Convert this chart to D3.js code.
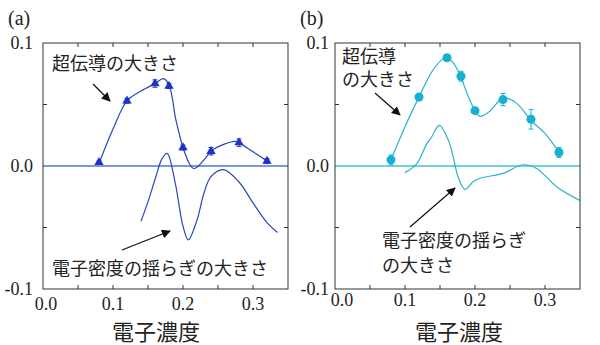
<!DOCTYPE html>
<html>
<head>
<meta charset="utf-8">
<script src="https://cdn.jsdelivr.net/npm/d3@7"></script>
<style>
  body { margin: 0; background: #fff; }
</style>
</head>
<body>
<script>
// measured points, x = electron concentration
var dopingX = [0.08, 0.12, 0.16, 0.18, 0.20, 0.24, 0.28, 0.32];
var scA = [0.003, 0.053, 0.067, 0.065, 0.015, 0.012, 0.019, 0.004];
var scAErr = [0.001, 0.002, 0.003, 0.002, 0.002, 0.003, 0.003, 0.002];
var scB = [0.005, 0.056, 0.088, 0.073, 0.045, 0.054, 0.038, 0.011];
var scBErr = [0.004, 0.002, 0.002, 0.004, 0.002, 0.005, 0.008, 0.004];

// smooth guide curves [x, value]
var fitA = [[0.08, 0.002], [0.10, 0.030], [0.12, 0.053], [0.14, 0.061], [0.16, 0.067], [0.172, 0.071],
  [0.18, 0.066], [0.19, 0.037], [0.20, 0.015], [0.21, 0.001], [0.215, -0.002], [0.22, -0.001],
  [0.23, 0.005], [0.24, 0.012], [0.26, 0.018], [0.275, 0.020], [0.28, 0.019], [0.30, 0.0115], [0.32, 0.004]];
var flucA = [[0.14, -0.045], [0.15, -0.029], [0.16, -0.011], [0.17, 0.006], [0.177, 0.0103], [0.18, 0.008],
  [0.19, -0.017], [0.20, -0.049], [0.2076, -0.060], [0.22, -0.044], [0.23, -0.022], [0.24, -0.0087],
  [0.2576, -0.003], [0.28, -0.013], [0.30, -0.030], [0.32, -0.046], [0.335, -0.054]];
var fitB = [[0.08, 0.005], [0.10, 0.032], [0.12, 0.056], [0.14, 0.078], [0.159, 0.0886], [0.17, 0.083],
  [0.18, 0.072], [0.19, 0.057], [0.20, 0.045], [0.207, 0.0404], [0.22, 0.044], [0.241, 0.0556],
  [0.26, 0.0507], [0.28, 0.037], [0.30, 0.0265], [0.32, 0.011]];
var flucB = [[0.10, -0.0054], [0.117, 0.002], [0.131, 0.018], [0.138, 0.0236], [0.149, 0.033], [0.162, 0.021],
  [0.169, 0.007], [0.176, -0.009], [0.1857, -0.019], [0.197, -0.013], [0.207, -0.010], [0.24, -0.006],
  [0.2686, 0.001], [0.288, -0.002], [0.317, -0.017], [0.35, -0.028]];

var xTicks = [0.0, 0.1, 0.2, 0.3];
var yTicks = [0.1, 0.0, -0.1];

var serif = 'Liberation Serif, DejaVu Serif, Noto Serif, serif';
var jpFont = 'Noto Sans CJK JP, Noto Sans, sans-serif';

var width = 600, height = 345;
var svg = d3.select('body').append('svg')
  .attr('width', width)
  .attr('height', height);

svg.append('defs').append('marker')
  .attr('id', 'arrowhead')
  .attr('viewBox', '0 0 10 10')
  .attr('refX', 9).attr('refY', 5)
  .attr('markerWidth', 9).attr('markerHeight', 9)
  .attr('markerUnits', 'userSpaceOnUse')
  .attr('orient', 'auto')
  .append('path').attr('d', 'M0,0 L10,5 L0,10 z').attr('fill', '#111');

function drawPanel(opt) {
  var g = svg.append('g');
  var x = d3.scaleLinear().domain([0, 0.35]).range([opt.left, opt.left + 245]);
  var y = d3.scaleLinear().domain([-0.1, 0.1]).range([289, 43]);

  // zero reference line
  g.append('line')
    .attr('x1', x(0)).attr('x2', x(0.35))
    .attr('y1', y(0)).attr('y2', y(0))
    .attr('stroke', opt.zeroColor).attr('stroke-width', 1.6);

  var line = d3.line()
    .x(function (d) { return x(d[0]); })
    .y(function (d) { return y(d[1]); })
    .curve(d3.curveCatmullRom.alpha(0.5));

  g.append('path').datum(opt.fit).attr('d', line)
    .attr('fill', 'none').attr('stroke', opt.color).attr('stroke-width', 1.2);
  g.append('path').datum(opt.fluc).attr('d', line)
    .attr('fill', 'none').attr('stroke', opt.color).attr('stroke-width', 1.2);

  // error bars
  var eb = g.selectAll('.err').data(opt.vals).enter().append('g');
  eb.append('line')
    .attr('x1', function (d, i) { return x(dopingX[i]); })
    .attr('x2', function (d, i) { return x(dopingX[i]); })
    .attr('y1', function (d, i) { return y(d - opt.errs[i]); })
    .attr('y2', function (d, i) { return y(d + opt.errs[i]); })
    .attr('stroke', opt.markColor).attr('stroke-width', 1);
  [-1, 1].forEach(function (s) {
    eb.append('line')
      .attr('x1', function (d, i) { return x(dopingX[i]) - 2.5; })
      .attr('x2', function (d, i) { return x(dopingX[i]) + 2.5; })
      .attr('y1', function (d, i) { return y(d + s * opt.errs[i]); })
      .attr('y2', function (d, i) { return y(d + s * opt.errs[i]); })
      .attr('stroke', opt.markColor).attr('stroke-width', 1);
  });

  // markers
  var sym = d3.symbol().type(opt.symbol).size(opt.symbolSize);
  g.selectAll('.mark').data(opt.vals).enter().append('path')
    .attr('d', sym)
    .attr('transform', function (d, i) { return 'translate(' + x(dopingX[i]) + ',' + y(d) + ')'; })
    .attr('fill', opt.markColor);

  // frame with inward ticks
  g.append('rect')
    .attr('x', x(0)).attr('y', y(0.1))
    .attr('width', x(0.35) - x(0)).attr('height', y(-0.1) - y(0.1))
    .attr('fill', 'none').attr('stroke', '#333').attr('stroke-width', 1);
  d3.range(0.05, 0.35, 0.05).forEach(function (t) {
    g.append('line').attr('x1', x(t)).attr('x2', x(t)).attr('y1', y(-0.1)).attr('y2', y(-0.1) - 4)
      .attr('stroke', '#333');
    g.append('line').attr('x1', x(t)).attr('x2', x(t)).attr('y1', y(0.1)).attr('y2', y(0.1) + 4)
      .attr('stroke', '#333');
  });
  [0.05, -0.05].forEach(function (t) {
    g.append('line').attr('x1', x(0)).attr('x2', x(0) + 4).attr('y1', y(t)).attr('y2', y(t))
      .attr('stroke', '#333');
    g.append('line').attr('x1', x(0.35)).attr('x2', x(0.35) - 4).attr('y1', y(t)).attr('y2', y(t))
      .attr('stroke', '#333');
  });

  // tick labels
  g.selectAll('.xl').data(xTicks).enter().append('text')
    .style('font-family', serif).style('font-size', '18px').attr('fill', '#222')
    .attr('x', function (d, i) { return x(d) + (i === 0 ? opt.firstShift : 0); })
    .attr('y', opt.xLabelY)
    .attr('text-anchor', 'middle')
    .text(function (d) { return d.toFixed(1); });
  g.selectAll('.yl').data(yTicks).enter().append('text')
    .style('font-family', serif).style('font-size', '18px').attr('fill', '#222')
    .attr('x', x(0) - opt.yLabelGap)
    .attr('y', function (d) { return y(d) + 6; })
    .attr('text-anchor', 'end')
    .text(function (d) { return d.toFixed(1); });

  g.append('text')
    .style('font-family', serif).style('font-size', '20px').attr('fill', '#222')
    .attr('x', opt.left - 35).attr('y', 25)
    .text(opt.tag);

  g.append('text')
    .style('font-family', jpFont).style('font-size', '22px').attr('fill', '#222')
    .attr('x', opt.titleX).attr('y', 340)
    .attr('text-anchor', 'middle')
    .text('電子濃度');

  opt.notes.forEach(function (n) {
    g.append('text')
      .style('font-family', jpFont).style('font-size', '18px').attr('fill', '#222')
      .attr('x', n[0]).attr('y', n[1])
      .text(n[2]);
  });
  opt.arrows.forEach(function (a) {
    g.append('line')
      .attr('x1', a[0]).attr('y1', a[1]).attr('x2', a[2]).attr('y2', a[3])
      .attr('stroke', '#111').attr('stroke-width', 1.2)
      .attr('marker-end', 'url(#arrowhead)');
  });
}

drawPanel({
  left: 43, tag: '(a)', color: '#2a47b8', markColor: '#1d33c4', zeroColor: '#4f74d6',
  vals: scA, errs: scAErr, fit: fitA, fluc: flucA,
  symbol: d3.symbolTriangle, symbolSize: 38,
  xLabelY: 310, firstShift: 3, yLabelGap: 10, titleX: 156,
  notes: [[52, 70, '超伝導の大きさ'], [52, 275, '電子密度の揺らぎの大きさ']],
  arrows: [[93, 84, 110, 101], [122, 250, 170, 231]]
});

drawPanel({
  left: 335, tag: '(b)', color: '#2ab2cc', markColor: '#16b0d2', zeroColor: '#44c2d2',
  vals: scB, errs: scBErr, fit: fitB, fluc: flucB,
  symbol: d3.symbolCircle, symbolSize: 64,
  xLabelY: 306, firstShift: 7, yLabelGap: 6, titleX: 459,
  notes: [[342, 63, '超伝導'], [342, 86, 'の大きさ'], [382, 247, '電子密度の揺らぎ'], [382, 272, 'の大きさ']],
  arrows: [[375, 93, 400, 115], [410, 227, 455, 188]]
});
</script>
</body>
</html>
